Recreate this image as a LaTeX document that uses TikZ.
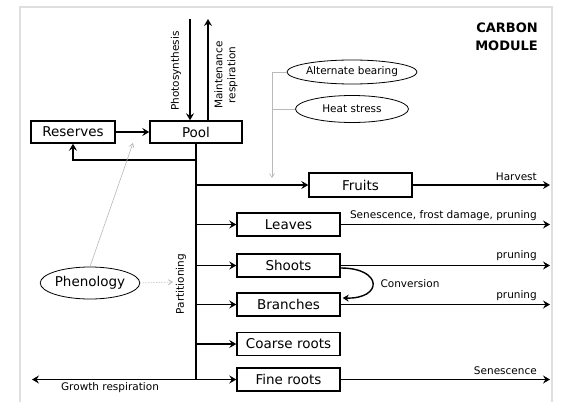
\documentclass[tikz,border=0pt]{standalone}
\usepackage{fontspec}
\setmainfont{DejaVu Sans}
\usetikzlibrary{arrows.meta,shapes.geometric}
\begin{document}
\begin{tikzpicture}[x=1pt,y=-1pt,
 box/.style={draw,line width=1.4pt,minimum height=23pt,inner sep=0pt,font=\fontsize{13.5}{15}\selectfont},
 oval/.style={draw,ellipse,line width=0.8pt,inner sep=0pt},
 flow/.style={line width=1.6pt,-{Stealth[length=7pt,width=8pt,inset=2.5pt]}},
 lab/.style={font=\fontsize{10.5}{12}\selectfont,inner sep=1pt},
 infl/.style={draw=gray!55,line width=0.6pt},
 inflarrow/.style={infl,-{Straight Barb[length=4pt,width=5pt]}},
]
\useasboundingbox (0,0) rectangle (561,401);
\fill[white] (0,0) rectangle (561,401);
\draw[gray!25,line width=1.5pt] (20,403) -- (20,7) -- (552,7) -- (552,403);

% title
\node[anchor=north east,align=right,inner sep=0pt,font=\fontsize{13}{18}\selectfont\bfseries] (title) at (538,23) {CARBON\\MODULE};

% boxes
\node[box,minimum width=84pt,minimum height=22pt] (res) at (73,132) {Reserves};
\node[box,minimum width=92pt,minimum height=22pt] (pool) at (196,132) {Pool};
\node[box,minimum width=103pt,minimum height=24pt] (fruits) at (360.5,185) {Fruits};
\node[box,minimum width=103pt] (leaves) at (288.5,224.5) {Leaves};
\node[box,minimum width=103pt] (shoots) at (288.5,265.5) {Shoots};
\node[box,minimum width=103pt] (branches) at (288.5,304.5) {Branches};
\node[box,minimum width=103pt] (coarse) at (288.5,344) {Coarse roots};
\node[box,minimum width=103pt] (fine) at (288.5,379.5) {Fine roots};

% ellipses
\node[oval,minimum width=113pt,minimum height=24pt,font=\fontsize{10.5}{12}\selectfont] (alt) at (352,72) {Alternate bearing};
\node[oval,minimum width=113pt,minimum height=27pt,font=\fontsize{10.5}{12}\selectfont] (heat) at (352,109) {Heat stress};
\node[oval,minimum width=92pt,minimum height=32pt,font=\fontsize{13.5}{15}\selectfont] (phen) at (90,283) {Phenology};

% photosynthesis / maintenance respiration
\coordinate (ps) at (190,19);
\coordinate (mr) at (208,19);
\draw[flow] (ps) -- (ps |- pool.north);
\draw[flow] (mr |- pool.north) -- (mr);
\node[lab,rotate=90] (pslab) at (176,71) {Photosynthesis};
\node[lab,rotate=90,align=center,font=\fontsize{10.5}{13}\selectfont] (mrlab) at (226,75) {Maintenance\\respiration};

% reserves <-> pool
\draw[flow] (res) -- (pool);
\coordinate (fb) at (196,160);
\draw[flow] (fb) -| (res.south);

% trunk
\coordinate (tb) at (196,379.5);
\draw[line width=1.6pt] (pool.south) -- (tb);
\node[lab,rotate=90] (part) at (181,284) {Partitioning};

% partitioning arrows
\foreach \n in {fruits,leaves,shoots,branches,coarse,fine}
  \draw[flow] (tb |- \n) -- (\n.west);

% growth respiration
\coordinate (gl) at (32,379.5);
\draw[flow] (tb) -- (gl);
\node[lab,anchor=north] (grlab) at (110,381) {Growth respiration};

% outputs
\coordinate (rx) at (550,0);
\draw[flow] (fruits.east) -- (fruits -| rx);
\draw[flow] (leaves.east) -- (leaves -| rx);
\draw[flow] (shoots.east) -- (shoots -| rx);
\draw[flow] (branches.east) -- (branches -| rx);
\draw[flow] (fine.east) -- (fine -| rx);
\node[lab,anchor=south east] (harv) at (538,182) {Harvest};
\node[lab,anchor=south east] (senl) at (538,222) {Senescence, frost damage, pruning};
\node[lab,anchor=south east] (pr1) at (538,262) {pruning};
\node[lab,anchor=south east] (pr2) at (538,302) {pruning};
\node[lab,anchor=south east] (senr) at (538,376) {Senescence};

% conversion
\draw[line width=1.4pt,-{Stealth[length=6pt,width=7pt,inset=2pt]}] ([yshift=-2.5pt]shoots.east) .. controls (383,268) and (383,299) .. ([yshift=6.5pt,xshift=2pt]branches.east);
\node[lab] (conv) at (410,284) {Conversion};

% influences
\coordinate (gj) at (272,178);
\draw[inflarrow] (alt.west) -| (gj);
\draw[infl] (heat.west) -- (heat.west -| gj);
\coordinate (pt) at (173,282);
\draw[infl,densely dotted,line width=0.8pt,-{Straight Barb[length=4pt,width=5pt]}] (phen.east) -- (pt);
\coordinate (rp) at (133,143);
\draw[inflarrow] (phen.north) -- (rp);
\end{tikzpicture}
\end{document}
